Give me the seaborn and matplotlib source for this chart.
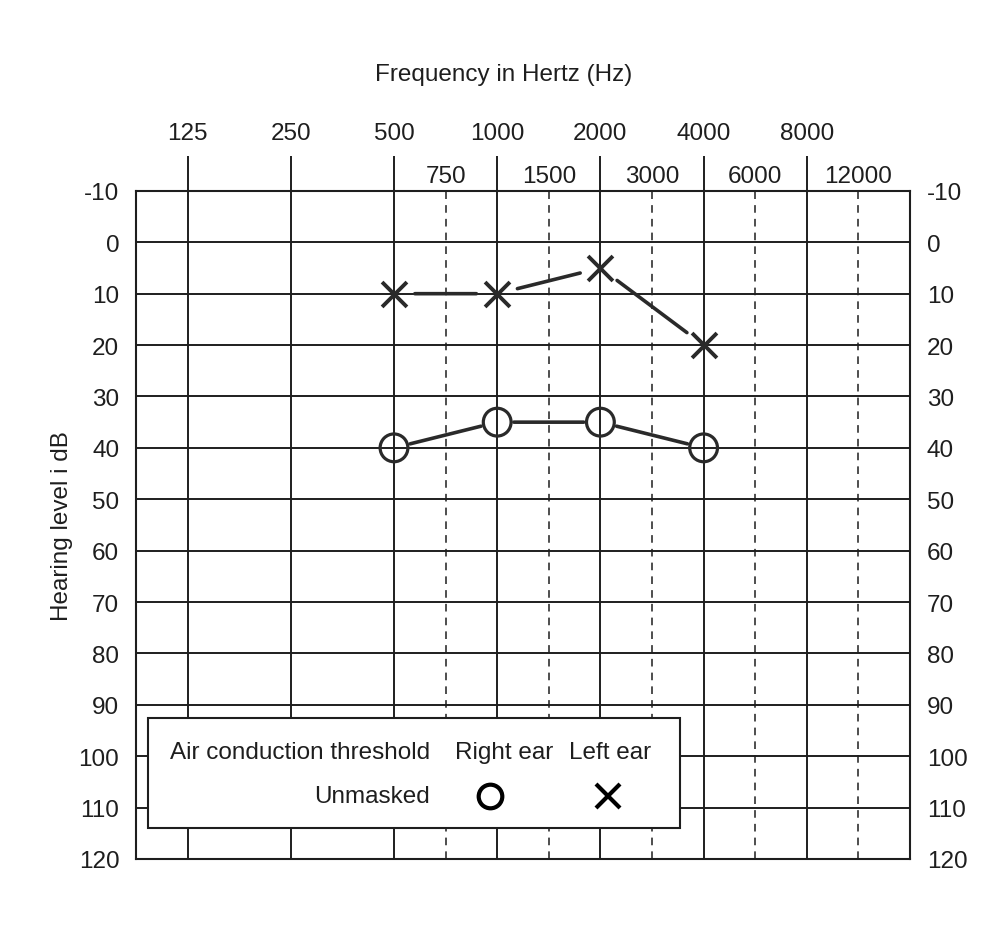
import numpy as np
import pandas as pd
import matplotlib
matplotlib.use("Agg")
import matplotlib.pyplot as plt
import seaborn as sns
from matplotlib.ticker import FixedLocator, FuncFormatter
from matplotlib.patches import Rectangle

# audiogram data
freq_major = [125, 250, 500, 1000, 2000, 4000, 8000]
freq_mid = [750, 1500, 3000, 6000, 12000]
db_ticks = list(range(-10, 121, 10))
test_freqs = [500, 1000, 2000, 4000]
right_ear_db = [40, 35, 35, 40]
left_ear_db = [10, 10, 5, 20]

ink = "#1e1e1e"
mark = "#2a2a2a"
fs = 17.5

sns.set_theme(style="white")
plt.rcParams["font.family"] = ["Liberation Sans", "DejaVu Sans"]

# audiogram x scale: octaves evenly spaced, inter-octave freqs halfway
lo_edge = freq_major[0] / np.sqrt(2)
hi_edge = freq_major[-1] * 2
knot_f = sorted([lo_edge] + freq_major + freq_mid + [hi_edge])
knot_p = sorted([-0.5] + list(range(len(freq_major))) +
                [i + 0.5 for i in range(2, 7)] + [len(freq_major)])
# extend linearly (1 unit per octave) outside
knot_lf = [np.log2(knot_f[0]) - 30] + list(np.log2(knot_f)) + [np.log2(knot_f[-1]) + 30]
knot_p = [knot_p[0] - 30] + knot_p + [knot_p[-1] + 30]


def fwd(f):
    f = np.clip(np.asarray(f, dtype=float), 1e-12, None)
    return np.interp(np.log2(f), knot_lf, knot_p)


def inv(p):
    return 2 ** np.interp(np.asarray(p, dtype=float), knot_p, knot_lf)


fig = plt.figure(figsize=(10, 9.37), dpi=100)
ax = fig.add_axes([0.136, 0.0822, 0.774, 0.713])
ax.set_xscale("function", functions=(fwd, inv))
ax.set_xlim(lo_edge, hi_edge)
ax.set_ylim(120, -10)

# grid
ax.xaxis.set_major_locator(FixedLocator(freq_major))
ax.xaxis.set_minor_locator(FixedLocator(freq_mid))
ax.xaxis.set_major_formatter(FuncFormatter(lambda v, p: f"{v:.0f}"))
ax.xaxis.set_minor_formatter(FuncFormatter(lambda v, p: f"{v:.0f}"))
ax.yaxis.set_major_locator(FixedLocator(db_ticks))
ax.yaxis.set_major_formatter(FuncFormatter(lambda v, p: f"{v:.0f}"))
ax.grid(True, which="major", axis="both", color=ink, lw=1.4, ls="-")
ax.grid(True, which="minor", axis="x", color=ink, lw=1.1, ls=(0, (5, 4)))
ax.set_axisbelow(True)

ax.xaxis.tick_top()
ax.tick_params(axis="x", which="major", top=True, bottom=False, labeltop=True,
               labelbottom=False, length=25, width=1.4, color=ink, pad=9,
               labelsize=fs, labelcolor=ink, direction="out")
ax.tick_params(axis="x", which="minor", top=True, bottom=False, labeltop=True,
               labelbottom=False, length=0, pad=3, labelsize=fs, labelcolor=ink)
ax.tick_params(axis="y", left=False, right=False, labelleft=True, labelright=True,
               labelsize=fs, labelcolor=ink, pad=6)
for s in ax.spines.values():
    s.set_color(ink)
    s.set_linewidth(1.5)

# thresholds
df = pd.DataFrame({"freq": test_freqs * 2,
                   "db": right_ear_db + left_ear_db,
                   "ear": ["Right"] * len(test_freqs) + ["Left"] * len(test_freqs)})

for ear, shrink in [("Right", 12), ("Left", 15)]:
    sub = df[df["ear"] == ear]
    pts = list(zip(sub["freq"], sub["db"]))
    for (x0, y0), (x1, y1) in zip(pts[:-1], pts[1:]):
        ax.annotate("", xy=(x1, y1), xytext=(x0, y0),
                    arrowprops=dict(arrowstyle="-", color=mark, lw=2.6,
                                    shrinkA=shrink, shrinkB=shrink), zorder=3)

sns.scatterplot(data=df[df["ear"] == "Right"], x="freq", y="db", marker="o",
                s=400, color=mark, linewidth=2.3, ax=ax, zorder=4, legend=False)
ax.collections[-1].set_facecolor("none")
ax.collections[-1].set_edgecolor(mark)
sns.scatterplot(data=df[df["ear"] == "Left"], x="freq", y="db", marker="x",
                s=320, color=mark, linewidth=2.8, ax=ax, zorder=4, legend=False)
ax.set_xlabel("")
ax.set_ylabel("Hearing level i dB", fontsize=fs, color=ink)
ax.yaxis.set_label_coords(-0.0956, 0.5)
ax.yaxis.label.set_va("center")

ax.text(0.475, 1.175, "Frequency in Hertz (Hz)", transform=ax.transAxes,
        ha="center", va="center", fontsize=fs, color=ink)

# legend box
ax.add_patch(Rectangle((0.0155, 0.046), 0.6875, 0.165, transform=ax.transAxes,
                       fc="white", ec=ink, lw=1.5, zorder=5))
ax.text(0.38, 0.160, "Air conduction threshold", transform=ax.transAxes,
        ha="right", va="center", fontsize=fs, color=ink, zorder=6)
ax.text(0.38, 0.094, "Unmasked", transform=ax.transAxes,
        ha="right", va="center", fontsize=fs, color=ink, zorder=6)
ax.text(0.475, 0.160, "Right ear", transform=ax.transAxes,
        ha="center", va="center", fontsize=fs, color=ink, zorder=6)
ax.text(0.612, 0.160, "Left ear", transform=ax.transAxes,
        ha="center", va="center", fontsize=fs, color=ink, zorder=6)
ax.plot([0.457], [0.094], transform=ax.transAxes, marker="o", ms=17, mfc="none",
        mec="black", mew=3, zorder=6, clip_on=False)
ax.plot([0.61], [0.094], transform=ax.transAxes, marker="x", ms=17,
        mec="black", mew=3, zorder=6, clip_on=False)

fig.savefig("out.png", dpi=100, facecolor="white")
